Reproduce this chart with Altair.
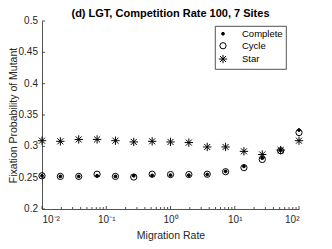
import altair as alt
import pandas as pd

rates = [0.01, 0.0193, 0.0373, 0.0720, 0.139, 0.268, 0.518, 1.0,
         1.93, 3.73, 7.20, 13.9, 26.8, 51.8, 100.0]
complete = [0.253, 0.252, 0.252, 0.253, 0.252, 0.253, 0.2535, 0.254,
            0.254, 0.255, 0.260, 0.268, 0.281, 0.294, 0.326]
cycle = [0.253, 0.252, 0.252, 0.2555, 0.252, 0.251, 0.2555, 0.255,
         0.255, 0.2555, 0.2595, 0.266, 0.279, 0.293, 0.322]
star = [0.309, 0.308, 0.311, 0.311, 0.309, 0.307, 0.308, 0.307,
        0.306, 0.299, 0.299, 0.292, 0.287, 0.294, 0.309]

topologies = ["Complete", "Cycle", "Star"]
y_ticks = [0.2, 0.25, 0.3, 0.35, 0.4, 0.45, 0.5]
y_labels = ["0.2", "0.25", "0.3", "0.35", "0.4", "0.45", "0.5"]
x_major = [0.01, 0.1, 1, 10, 100]
x_minor = [m * d for d in [0.01, 0.1, 1, 10] for m in range(2, 10)]

rows = []
for name, vals in [("Cycle", cycle), ("Complete", complete), ("Star", star)]:
    for r, v in zip(rates, vals):
        rows.append({"Topology": name, "rate": r, "value": v})
df = pd.DataFrame(rows)

STAR_PATH = "M-1,0L1,0M0,-1L0,1M-0.72,-0.72L0.72,0.72M-0.72,0.72L0.72,-0.72"

W, H = 257, 188
AX = "#262626"

xscale = alt.Scale(type="log", domain=[0.01, 100], nice=False)
yscale = alt.Scale(domain=[0.2, 0.5], nice=False, zero=False)

x_label_expr = ("datum.value == 0.01 ? '10\u207b\u00b2' : datum.value == 0.1 ? '10\u207b\u00b9' : "
                "datum.value == 1 ? '10\u2070' : datum.value == 10 ? '10\u00b9' : '10\u00b2'")

x_axis = alt.Axis(values=x_major, labelExpr=x_label_expr, ticks=False, grid=False,
                  labelOverlap=False, title="Migration Rate", labelPadding=5,
                  titleY=21, titleBaseline="top", titlePadding=0)
y_axis = alt.Axis(values=y_ticks, labels=False, ticks=False, grid=False,
                  title="Fixation Probability of Mutant",
                  titleX=-24, titleY=H / 2, titleBaseline="bottom")

leg = alt.Legend(title=None, orient="none", legendX=173, legendY=5)

points = alt.Chart(df).mark_point(filled=False, strokeWidth=1, opacity=1).encode(
    x=alt.X("rate:Q", scale=xscale, axis=x_axis),
    y=alt.Y("value:Q", scale=yscale, axis=y_axis),
    shape=alt.Shape("Topology:N", scale=alt.Scale(domain=topologies,
                                                 range=["circle", "circle", STAR_PATH]),
                    legend=leg),
    fill=alt.Fill("Topology:N", scale=alt.Scale(domain=topologies,
                                               range=["black", "transparent", "transparent"]),
                  legend=leg),
    stroke=alt.Stroke("Topology:N", scale=alt.Scale(domain=topologies,
                                                   range=["black", "black", "black"]),
                      legend=leg),
    size=alt.Size("Topology:N", scale=alt.Scale(domain=topologies, range=[8, 70, 100]),
                  legend=leg),
)

ytick_df = pd.DataFrame({"value": y_ticks, "label": y_labels})
yticks = alt.Chart(ytick_df).mark_rule(color=AX, strokeWidth=0.8).encode(
    y=alt.Y("value:Q", scale=yscale, axis=y_axis),
    x=alt.value(0), x2=alt.value(3),
)
ylabels = alt.Chart(ytick_df).mark_text(
    align="right", baseline="middle", font="Liberation Sans", fontSize=10, color=AX
).encode(
    y=alt.Y("value:Q", scale=yscale, axis=y_axis),
    x=alt.value(-4),
    text="label:N",
)

xmaj_df = pd.DataFrame({"rate": x_major})
xmaj = alt.Chart(xmaj_df).mark_rule(color=AX, strokeWidth=0.8).encode(
    x=alt.X("rate:Q", scale=xscale, axis=x_axis),
    y=alt.value(H), y2=alt.value(H - 3),
)
xmin_df = pd.DataFrame({"rate": x_minor})
xmin = alt.Chart(xmin_df).mark_rule(color=AX, strokeWidth=0.8).encode(
    x=alt.X("rate:Q", scale=xscale, axis=x_axis),
    y=alt.value(H), y2=alt.value(H - 2),
)

chart = alt.layer(points, yticks, ylabels, xmaj, xmin).properties(
    width=W, height=H,
    autosize=alt.AutoSizeParams(type="none"),
    padding={"left": 34, "top": 13, "right": 25, "bottom": 32},
    title=alt.Title("(d) LGT, Competition Rate 100, 7 Sites", fontSize=11,
                    fontWeight="bold", font="Liberation Sans", color="black",
                    anchor="middle", offset=-3),
).configure_view(stroke=None).configure_axis(
    domainColor=AX, domainWidth=0.8, labelColor=AX, titleColor=AX,
    labelFont="Liberation Sans", titleFont="Liberation Sans",
    labelFontSize=10, titleFontSize=10.5, titleFontWeight="normal",
).configure_legend(
    strokeColor=AX, fillColor="white", padding=3, labelFont="Liberation Sans",
    labelFontSize=9.5, labelColor="black", symbolStrokeColor="black",
    symbolStrokeWidth=1, rowPadding=1, labelOffset=14,
    cornerRadius=0, strokeWidth=0.8,
)

chart.save("out.html", embed_options={"renderer": "svg", "actions": False})
